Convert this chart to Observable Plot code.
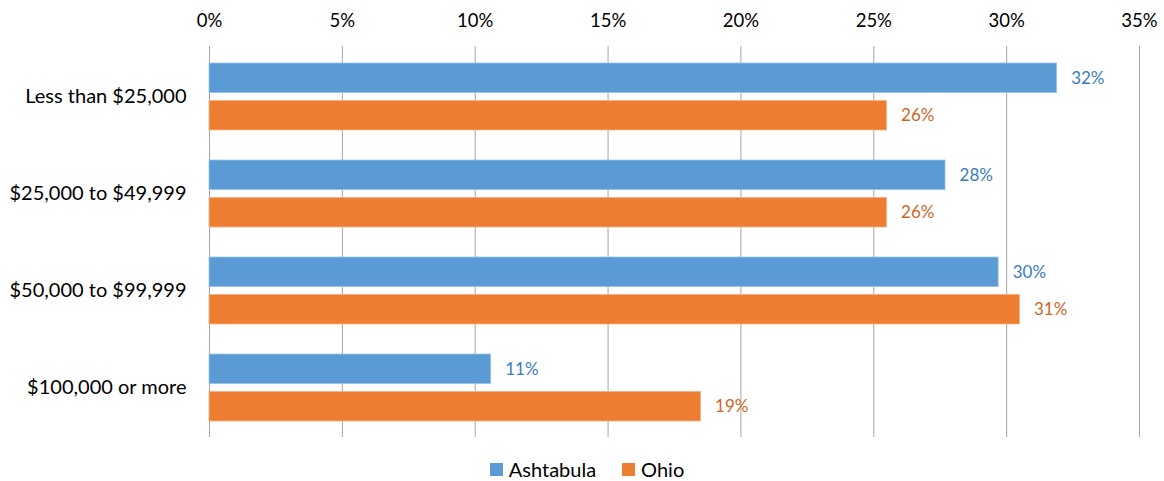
<!DOCTYPE html>
<html>
<head>
<meta charset="utf-8">
<script src="https://cdn.jsdelivr.net/npm/d3@7"></script>
<script src="https://cdn.jsdelivr.net/npm/@observablehq/plot@0.6"></script>
<style>
  html, body { margin: 0; padding: 0; background: #fff; }
  body { width: 1164px; font-family: Lato, "Open Sans", sans-serif; }
  #chart svg { display: block; }
  #legend { display: flex; justify-content: center; align-items: center; gap: 26px; margin-top: 7px; font-size: 20px; line-height: 24px; height: 24px; color: #000; padding-left: 10px; }
  #legend .item { display: flex; align-items: center; gap: 6px; }
  #legend .sw { width: 13px; height: 13px; display: inline-block; }
</style>
</head>
<body>
<div id="chart"></div>
<div id="legend"></div>
<script>
const categories = ["Less than $25,000", "$25,000 to $49,999", "$50,000 to $99,999", "$100,000 or more"];
const series = ["Ashtabula", "Ohio"];
const ashtabula = [31.9, 27.7, 29.7, 10.6];
const ohio = [25.5, 25.5, 30.5, 18.5];
const xTicks = [0, 5, 10, 15, 20, 25, 30, 35];

const colors = ["#5B9BD5", "#ED7D31"];
const labelColors = ["#3B7BC0", "#D0651F"];

const rowsA = categories.map((c, i) => ({category: c, series: series[0], value: ashtabula[i]}));
const rowsO = categories.map((c, i) => ({category: c, series: series[1], value: ohio[i]}));

const chart = Plot.plot({
  width: 1164,
  height: 450,
  marginTop: 46,
  marginBottom: 13,
  marginLeft: 209,
  marginRight: 25,
  style: {fontFamily: "Lato, 'Open Sans', sans-serif", fontSize: "18px", color: "#000", background: "#fff"},
  x: {domain: [0, 35], ticks: xTicks, label: null},
  y: {domain: categories, paddingInner: 0.31, paddingOuter: 0.155, label: null},
  marks: [
    Plot.axisX(xTicks, {anchor: "top", tickFormat: d => d + "%", tickSize: 0, tickPadding: 20, fontSize: 18.5, label: null}),
    Plot.axisY({tickSize: 0, tickPadding: 23, fontSize: 20, label: null}),
    Plot.ruleX(xTicks, {stroke: "#a6a6a6", strokeWidth: 1}),
    Plot.barX(rowsA, {x: "value", y: "category", fill: colors[0], insetBottom: 37.4, stroke: "#9cc3e8", strokeWidth: 0.8}),
    Plot.barX(rowsO, {x: "value", y: "category", fill: colors[1], insetTop: 37.4, stroke: "#f5b286", strokeWidth: 0.8}),
    Plot.text(rowsA, {x: "value", y: "category", text: d => Math.round(d.value) + "%", dx: 14, dy: -18.5, textAnchor: "start", fill: labelColors[0], fontSize: 17}),
    Plot.text(rowsO, {x: "value", y: "category", text: d => Math.round(d.value) + "%", dx: 14, dy: 19, textAnchor: "start", fill: labelColors[1], fontSize: 17})
  ]
});
document.getElementById("chart").appendChild(chart);

const legend = document.getElementById("legend");
series.forEach((s, i) => {
  const item = document.createElement("span");
  item.className = "item";
  const sw = document.createElement("span");
  sw.className = "sw";
  sw.style.background = colors[i];
  const t = document.createElement("span");
  t.textContent = s;
  item.appendChild(sw);
  item.appendChild(t);
  legend.appendChild(item);
});
</script>
</body>
</html>
